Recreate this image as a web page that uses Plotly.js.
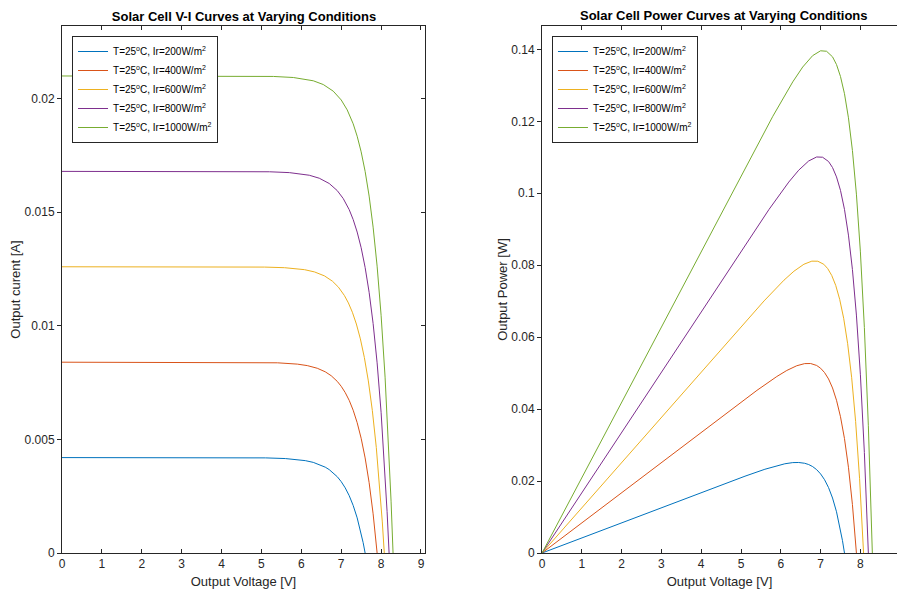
<!DOCTYPE html>
<html>
<head>
<meta charset="utf-8">
<script src="https://cdn.plot.ly/plotly-3.0.1.min.js"></script>
<style>html,body{margin:0;padding:0;background:#fff;}#chart{width:897px;height:592px;}</style>
</head>
<body>
<div id="chart"></div>
<script>
// ---- Data ----
const seriesNames = [
  'T=25<sup>o</sup>C, Ir=200W/m<sup>2</sup>',
  'T=25<sup>o</sup>C, Ir=400W/m<sup>2</sup>',
  'T=25<sup>o</sup>C, Ir=600W/m<sup>2</sup>',
  'T=25<sup>o</sup>C, Ir=800W/m<sup>2</sup>',
  'T=25<sup>o</sup>C, Ir=1000W/m<sup>2</sup>'
];
const seriesColors = ['#0072BD', '#D95319', '#EDB120', '#7E2F8E', '#77AC30'];

// Irradiance 200 W/m2
const V200 = [0,1,2,3,4,4.6,5.1,5.6,5.85,6.1,6.3,6.45,6.6,6.7,6.8,6.9,7.0,7.1,7.2,7.3,7.4,7.5,7.55,7.6];
const I200 = [0.0042,0.0042,0.0042,0.0042,0.0042,0.004196,0.004187,0.004158,0.004125,0.004066,0.003989,0.003901,0.003779,0.003670,0.003532,0.003360,0.003142,0.002869,0.002525,0.002093,0.001548,0.000863,0.000456,0];
const P200 = [0,0.0042,0.0084,0.0126,0.0168,0.01930,0.02135,0.02328,0.02413,0.02480,0.02513,0.02516,0.02494,0.02459,0.02402,0.02318,0.02199,0.02037,0.01818,0.01528,0.01146,0.00647,0.00344,0];

// Irradiance 400 W/m2
const V400 = [0,1,2,3,4,4.9,5.4,5.9,6.15,6.4,6.6,6.75,6.9,7.0,7.1,7.2,7.3,7.4,7.5,7.6,7.7,7.8,7.85,7.9];
const I400 = [0.0084,0.0084,0.0084,0.0084,0.0084,0.008392,0.008373,0.008315,0.008250,0.008133,0.007977,0.007803,0.007557,0.007339,0.007064,0.006720,0.006285,0.005738,0.005051,0.004186,0.003096,0.001725,0.000912,0];
const P400 = [0,0.0084,0.0168,0.0252,0.0336,0.04112,0.04521,0.04906,0.05074,0.05205,0.05265,0.05267,0.05214,0.05137,0.05015,0.04838,0.04588,0.04246,0.03788,0.03181,0.02384,0.01346,0.00716,0];

// Irradiance 600 W/m2
const V600 = [0,1,2,3,4,5.08,5.58,6.08,6.33,6.58,6.78,6.93,7.08,7.18,7.28,7.38,7.48,7.58,7.68,7.78,7.88,7.98,8.03,8.08];
const I600 = [0.0126,0.0126,0.0126,0.0126,0.0126,0.012587,0.012560,0.012473,0.012374,0.012199,0.011966,0.011704,0.011336,0.011009,0.010597,0.010080,0.009427,0.008607,0.007576,0.006279,0.004644,0.002588,0.001368,0];
const P600 = [0,0.0126,0.0252,0.0378,0.0504,0.06394,0.07008,0.07584,0.07833,0.08027,0.08113,0.08111,0.08026,0.07904,0.07715,0.07439,0.07051,0.06524,0.05818,0.04885,0.03659,0.02065,0.01099,0];

// Irradiance 800 W/m2
const V800 = [0,1,2,3,4,5.2,5.7,6.2,6.45,6.7,6.9,7.05,7.2,7.3,7.4,7.5,7.6,7.7,7.8,7.9,8.0,8.1,8.15,8.2];
const I800 = [0.0168,0.0168,0.0168,0.0168,0.0168,0.016783,0.016746,0.016630,0.016499,0.016266,0.015955,0.015606,0.015115,0.014678,0.014129,0.013440,0.012570,0.011476,0.010102,0.008372,0.006192,0.003451,0.001824,0];
const P800 = [0,0.0168,0.0336,0.0504,0.0672,0.08727,0.09545,0.10311,0.10642,0.10898,0.11009,0.11002,0.10883,0.10715,0.10455,0.10080,0.09553,0.08837,0.07880,0.06614,0.04954,0.02795,0.01487,0];

// Irradiance 1000 W/m2
const V1000 = [0,1,2,3,4,5.3,5.8,6.3,6.55,6.8,7.0,7.15,7.3,7.4,7.5,7.6,7.7,7.8,7.9,8.0,8.1,8.2,8.25,8.3];
const I1000 = [0.021,0.021,0.021,0.021,0.021,0.020979,0.020933,0.020788,0.020624,0.020332,0.019944,0.019507,0.018894,0.018348,0.017661,0.016800,0.015712,0.014345,0.012627,0.010464,0.007741,0.004313,0.002281,0];
const P1000 = [0,0.021,0.042,0.063,0.084,0.11119,0.12141,0.13096,0.13509,0.13826,0.13961,0.13948,0.13793,0.13578,0.13246,0.12768,0.12098,0.11189,0.09975,0.08371,0.06270,0.03537,0.01882,0];

// Tick labels
const xTickVals = [0,1,2,3,4,5,6,7,8,9];
const xTickText = ['0','1','2','3','4','5','6','7','8','9'];
const iTickVals = [0,0.005,0.01,0.015,0.02];
const iTickText = ['0','0.005','0.01','0.015','0.02'];
const pTickVals = [0,0.02,0.04,0.06,0.08,0.1,0.12,0.14];
const pTickText = ['0','0.02','0.04','0.06','0.08','0.1','0.12','0.14'];

// ---- Build traces ----
const Vs = [V200, V400, V600, V800, V1000];
const Is = [I200, I400, I600, I800, I1000];
const Ps = [P200, P400, P600, P800, P1000];

const FONT = 'Liberation Sans, Arial, Helvetica, sans-serif';
const AX = '#262626';

const traces = [];
for (let k = 0; k < 5; k++) {
  traces.push({
    x: Vs[k], y: Is[k], type: 'scatter', mode: 'lines',
    name: seriesNames[k], line: {color: seriesColors[k], width: 1},
    xaxis: 'x', yaxis: 'y', legend: 'legend'
  });
}
for (let k = 0; k < 5; k++) {
  traces.push({
    x: Vs[k], y: Ps[k], type: 'scatter', mode: 'lines',
    name: seriesNames[k], line: {color: seriesColors[k], width: 1},
    xaxis: 'x2', yaxis: 'y2', legend: 'legend2'
  });
}
// empty trace hosting the inner ticks on the right edge of the left panel
traces.push({x: [], y: [], xaxis: 'x', yaxis: 'y3', showlegend: false, hoverinfo: 'skip'});

const tickFont = {family: FONT, size: 12, color: AX};
const titleFont = {family: FONT, size: 13, color: AX};

const legendCommon = {
  bgcolor: '#ffffff', bordercolor: AX, borderwidth: 1,
  font: {family: FONT, size: 10, color: '#000'},
  xanchor: 'left', yanchor: 'top', tracegroupgap: 0
};

const layout = {
  width: 897, height: 592,
  margin: {l: 62, r: 0, t: 26, b: 39, pad: 0},
  paper_bgcolor: '#ffffff', plot_bgcolor: '#ffffff',
  font: {family: FONT, size: 12, color: AX},
  title: {
    text: '<b>Solar Cell V-I Curves at Varying Conditions</b>',
    font: {family: FONT, size: 13, color: '#000'},
    xref: 'container', x: 244 / 897, xanchor: 'center',
    yref: 'container', y: 1 - 16 / 592, yanchor: 'middle'
  },
  xaxis: {
    domain: [0, 0.4347], range: [0, 9.1], anchor: 'y',
    tickvals: xTickVals, ticktext: xTickText, tickfont: tickFont,
    ticks: 'inside', ticklen: 4, tickcolor: AX, mirror: 'ticks',
    showline: true, linecolor: AX, linewidth: 1,
    showgrid: false, zeroline: false,
    title: {text: 'Output Voltage [V]', font: titleFont, standoff: 6}
  },
  yaxis: {
    domain: [0, 1], range: [0, 0.0232], anchor: 'x',
    tickvals: iTickVals, ticktext: iTickText, tickfont: tickFont,
    ticks: 'outside', ticklen: 4, tickcolor: AX, mirror: true,
    showline: true, linecolor: AX, linewidth: 1,
    showgrid: false, zeroline: false,
    title: {text: 'Output curent [A]', font: titleFont, standoff: 1}
  },
  yaxis3: {
    overlaying: 'y', side: 'right', anchor: 'x',
    range: [0, 0.0232], tickvals: iTickVals,
    ticks: 'inside', ticklen: 4, tickcolor: AX,
    showticklabels: false, showline: false, showgrid: false, zeroline: false
  },
  xaxis2: {
    domain: [0.5749, 1], range: [0, 8.92], anchor: 'y2',
    tickvals: xTickVals, ticktext: xTickText, tickfont: tickFont,
    ticks: 'inside', ticklen: 4, tickcolor: AX, mirror: 'ticks',
    showline: true, linecolor: AX, linewidth: 1,
    showgrid: false, zeroline: false,
    title: {text: 'Output Voltage [V]', font: titleFont, standoff: 6}
  },
  yaxis2: {
    domain: [0, 1], range: [0, 0.1465], anchor: 'x2',
    tickvals: pTickVals, ticktext: pTickText, tickfont: tickFont,
    ticks: 'outside', ticklen: 4, tickcolor: AX,
    showline: true, linecolor: AX, linewidth: 1,
    showgrid: false, zeroline: false,
    title: {text: 'Output Power [W]', font: titleFont, standoff: 0}
  },
  legend: Object.assign({x: 0.012, y: 0.981}, legendCommon),
  legend2: Object.assign({x: 0.5868, y: 0.981}, legendCommon),
  annotations: [{
    text: '<b>Solar Cell Power Curves at Varying Conditions</b>',
    font: {family: FONT, size: 13, color: '#000'},
    xref: 'paper', yref: 'paper',
    x: (724 - 62) / 835, y: (553 - 16) / 527,
    xanchor: 'center', yanchor: 'middle', showarrow: false
  }],
  showlegend: true
};

Plotly.newPlot('chart', traces, layout, {staticPlot: true, displayModeBar: false});
</script>
</body>
</html>
